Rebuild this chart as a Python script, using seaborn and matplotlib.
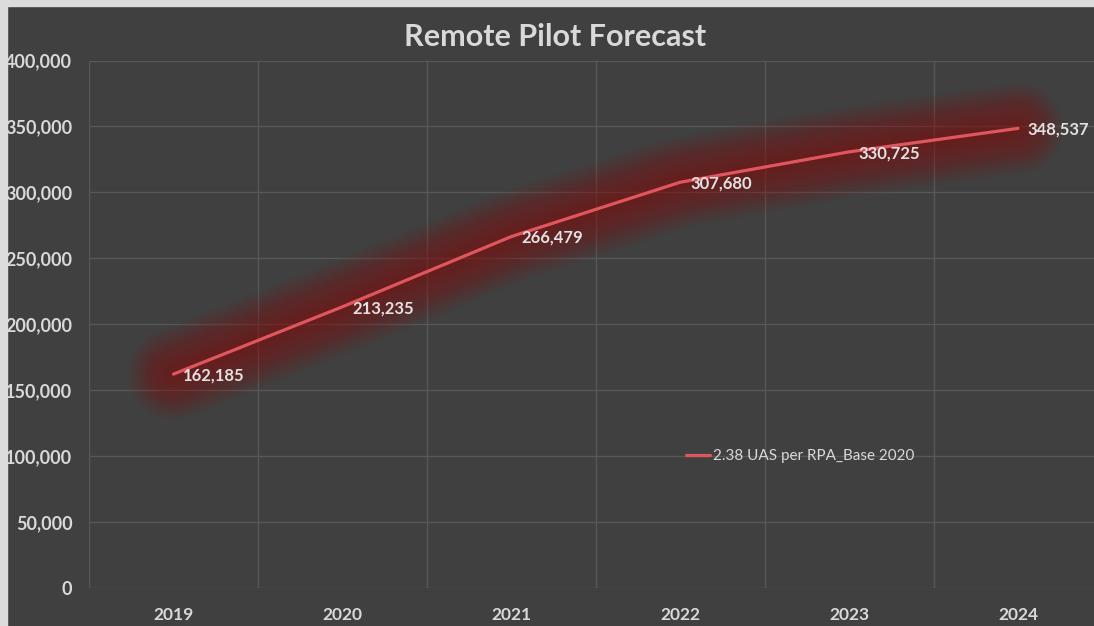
import numpy as np
import pandas as pd
import seaborn as sns
import matplotlib
matplotlib.use("Agg")
import matplotlib.pyplot as plt
from matplotlib.ticker import FuncFormatter, MultipleLocator, FixedLocator
from matplotlib.patches import Rectangle

# Forecast data
years = ["2019", "2020", "2021", "2022", "2023", "2024"]
pilots = [162185, 213235, 266479, 307680, 330725, 348537]
series_name = "2.38 UAS per RPA_Base 2020"
title = "Remote Pilot Forecast"

BG = "#404040"
GRID = "#575757"
TXT = "#d9d9d9"
LINE = "#e0565f"
GLOW = "#9a0c0c"

sns.set_theme(style="dark")
plt.rcParams["font.family"] = ["Lato", "DejaVu Sans"]

W, H = 1094, 626
fig = plt.figure(figsize=(W / 100, H / 100), dpi=100, facecolor=BG)

# plot area in pixel terms
left_px, right_px, top_px, bottom_px = 89, 1102.5, 60.5, 588
ax = fig.add_axes([left_px / W, 1 - bottom_px / H,
                   (right_px - left_px) / W, (bottom_px - top_px) / H])
ax.set_facecolor(BG)

df = pd.DataFrame({"pos": np.arange(len(years)), "pilots": pilots})

# soft red halo behind the line
for lw in np.linspace(66, 3, 24):
    ax.plot(df["pos"], df["pilots"], color=GLOW, lw=lw, alpha=0.03,
            solid_capstyle="round", solid_joinstyle="round", zorder=2)

sns.lineplot(data=df, x="pos", y="pilots", ax=ax, color=LINE, lw=2.3,
             label=series_name, zorder=4)

for x, v in zip(df["pos"], df["pilots"]):
    ax.annotate(f"{v:,}", (x, v), xytext=(7, -1), textcoords="offset points",
                ha="left", va="center", color="#e2e2e2", fontsize=12,
                fontweight="bold", zorder=5)

ax.set_xlim(-0.5, len(years) - 0.5)
ax.set_ylim(0, 400000)
ax.yaxis.set_major_locator(MultipleLocator(50000))
ax.yaxis.set_major_formatter(FuncFormatter(lambda v, p: f"{int(v):,}"))
ax.set_xticks(df["pos"])
ax.set_xticklabels(years)
ax.xaxis.set_minor_locator(FixedLocator(np.arange(-0.5, len(years), 1.0)))

ax.grid(axis="y", which="major", color=GRID, lw=1.0)
ax.grid(axis="x", which="minor", color=GRID, lw=1.0)
ax.grid(axis="x", which="major", visible=False)
ax.set_axisbelow(True)

ax.tick_params(axis="y", which="both", length=0, pad=12, colors=TXT,
               labelsize=13)
ax.tick_params(axis="x", which="both", length=0, pad=14, colors=TXT,
               labelsize=12.5)
for lab in ax.get_xticklabels() + ax.get_yticklabels():
    lab.set_fontweight("bold")
ax.set_xlabel("")
ax.set_ylabel("")
for s in ax.spines.values():
    s.set_visible(False)

leg = ax.legend(loc="center left", bbox_to_anchor=(686 / W, 1 - 456 / H),
                bbox_transform=fig.transFigure, frameon=False, fontsize=11,
                handlelength=1.6, handletextpad=0.15, borderpad=0,
                borderaxespad=0)
for t in leg.get_texts():
    t.set_color(TXT)

fig.text(555 / W, 1 - 37 / H, title, ha="center", va="center",
         color=TXT, fontsize=22, fontweight="bold")

# light frame strips along the left and top edges
fig.patches.append(Rectangle((0, 0), 7 / W, 1, transform=fig.transFigure,
                             color="#dcdcdc", zorder=10))
fig.patches.append(Rectangle((0, 1 - 6 / H), 1, 6 / H, transform=fig.transFigure,
                             color="#dcdcdc", zorder=10))

fig.savefig("out.png", dpi=100, facecolor=BG)
